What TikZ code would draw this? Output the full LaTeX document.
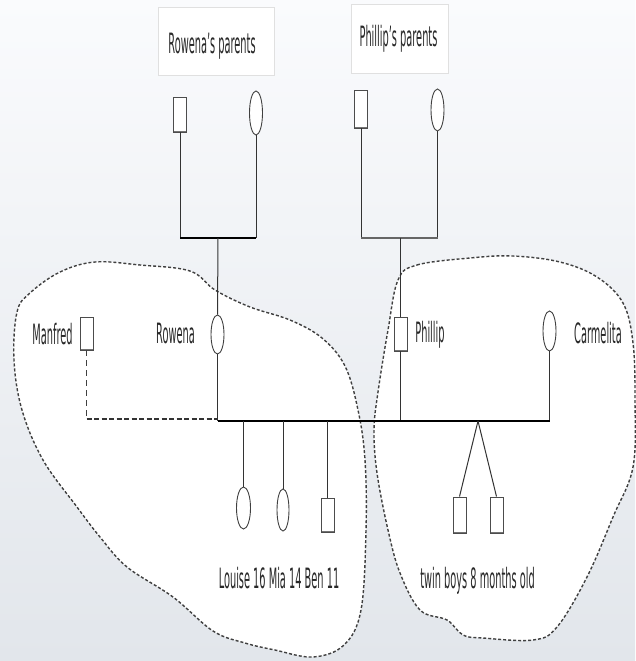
\documentclass[tikz,border=0pt]{standalone}
\usepackage{fontspec}
\newfontfamily\lblfont[FakeStretch=0.35]{DejaVu Sans}
\usetikzlibrary{shapes.geometric}
\definecolor{bgtop}{RGB}{250,251,253}
\definecolor{bgbot}{RGB}{226,230,235}
\definecolor{ink}{RGB}{40,40,40}
\tikzset{
  lbl/.style={font=\lblfont\fontsize{28}{30}\selectfont, text=ink, inner sep=0pt, anchor=base},
  male/.style={rectangle, draw=black!70, line width=0.9pt, fill=white, minimum width=13pt, minimum height=35pt, inner sep=0pt,
     path picture={\draw[line width=2.6pt, black!55] (path picture bounding box.north west) -- (path picture bounding box.north east);
                   \draw[line width=2.6pt, black!55] (path picture bounding box.south west) -- (path picture bounding box.south east);}},
  female/.style={ellipse, draw=black!75, line width=0.9pt, fill=white, minimum width=13pt, minimum height=41pt, inner sep=0pt},
  link/.style={draw=black!80, line width=1pt},
  union/.style={draw=black, line width=2.2pt},
  cloud/.style={draw=black!75, line width=1.4pt, dash pattern=on 3pt off 2pt, fill=white},
  titlebox/.style={rectangle, draw=black!12, line width=0.8pt, fill=white, inner sep=0pt}
}
\begin{document}
\begin{tikzpicture}[x=1pt,y=-1pt]
\useasboundingbox (0,0) rectangle (635,661);
\shade[top color=bgtop, bottom color=bgbot] (0,0) rectangle (635,661);

% clouds
\draw[cloud] plot[smooth cycle, tension=0.6] coordinates {
 (30,293) (60,272) (95,262) (140,265) (190,271) (215,290) (250,307) (290,320) (322,338) (345,366)
 (358,410) (365,460) (366,530) (361,610) (344,645) (313,657) (275,650) (245,643) (213,631) (173,597)
 (127,567) (100,537) (77,507) (43,460) (22,410) (14,360) (17,312)};
\draw[cloud] plot[smooth cycle, tension=0.6] coordinates {
 (398,280) (417,265) (470,258) (513,256) (560,262) (597,277) (623,303) (633,343) (635,400) (633,467)
 (613,517) (587,577) (557,627) (533,640) (483,638) (463,635) (447,620) (420,610) (400,573) (388,530)
 (377,473) (374,430) (378,392) (388,330)};

% title boxes
\node[titlebox, minimum width=116pt, minimum height=68pt] (rpbox) at (216,41) {};
\node[titlebox, minimum width=97pt, minimum height=69pt] (ppbox) at (399.5,38.5) {};
\node[lbl] (rptext) at (212,54) {Rowena’s parents};
\node[lbl] (pptext) at (398.5,47) {Phillip’s parents};

% grandparents
\node[male] (rf) at (180,114.5) {};
\node[female, minimum height=44pt] (rm) at (256,113) {};
\node[male, minimum height=38pt] (pf) at (361,109) {};
\node[female, minimum height=42pt] (pm) at (437.5,110) {};

% generation 2
\node[male, minimum height=33pt] (manfred) at (86.5,333.5) {};
\node[female, minimum height=39pt] (rowena) at (217.5,334.5) {};
\node[male, minimum height=34pt] (phillip) at (400.5,334) {};
\node[female, minimum height=40pt] (carmelita) at (549.5,331) {};
\node[lbl] (manfredlbl) at (52.5,344) {Manfred};
\node[lbl] (rowenalbl) at (175.5,343) {Rowena};
\node[lbl] (philliplbl) at (430,342) {Phillip};
\node[lbl] (carmelitalbl) at (598,343) {Carmelita};

% children
\node[female, minimum width=14pt, minimum height=42pt] (louise) at (243.5,508) {};
\node[female, minimum width=12pt, minimum height=42pt] (mia) at (283,510) {};
\node[male, minimum height=34pt] (ben) at (327.5,515) {};
\node[male, minimum height=36pt] (twina) at (459.5,515) {};
\node[male, minimum height=36pt] (twinb) at (496.5,515) {};
\node[lbl] (kidslbl) at (279,588) {Louise 16 Mia 14 Ben 11};
\node[lbl] (twinslbl) at (477.5,588) {twin boys 8 months old};

% union coordinates
\coordinate (rfu) at (180,238);
\coordinate (rmu) at (256,238);
\coordinate (rpu) at (218,238);
\coordinate (pfu) at (361,238);
\coordinate (pmu) at (437.5,238);
\coordinate (ppu) at (400.5,238);
\coordinate (mainl) at (217.5,421);
\coordinate (mainr) at (550,421);
\coordinate (phu) at (400.5,421);
\coordinate (cau) at (549.5,421);
\coordinate (mfcorner) at (86.5,419);
\coordinate (mfend) at (217.5,419);
\coordinate (lou) at (243.5,421);
\coordinate (miu) at (283,421);
\coordinate (beu) at (327.5,421);
\coordinate (apex) at (478,421);

% grandparent lines
\draw[link] (rf.south) -- (rfu);
\draw[link] (rm.south) -- (rmu);
\draw[union] (rfu) -- (rmu);
\draw[link] (rpu) -- (rowena.north);
\draw[link] (pf.south) -- (pfu);
\draw[link] (pm.south) -- (pmu);
\draw[draw=black!60, line width=1.3pt] (pfu) -- (pmu);
\draw[link] (ppu) -- (phillip.north);

% main union
\draw[link] (rowena.south) -- (mainl);
\draw[link] (phillip.south) -- (phu);
\draw[link] (carmelita.south) -- (cau);
\draw[union] (mainl) -- (mainr);
\draw[draw=black!75, line width=1.1pt, dash pattern=on 6pt off 4pt] (manfred.south) -- (mfcorner);
\draw[draw=black!80, line width=2pt, dash pattern=on 5pt off 2.5pt] (mfcorner) -- (mfend);

% children lines
\draw[link] (lou) -- (louise.north);
\draw[link] (miu) -- (mia.north);
\draw[link] (beu) -- (ben.north);
\draw[link] (apex) -- (twina.north);
\draw[link] (apex) -- (twinb.north);
\end{tikzpicture}
\end{document}
